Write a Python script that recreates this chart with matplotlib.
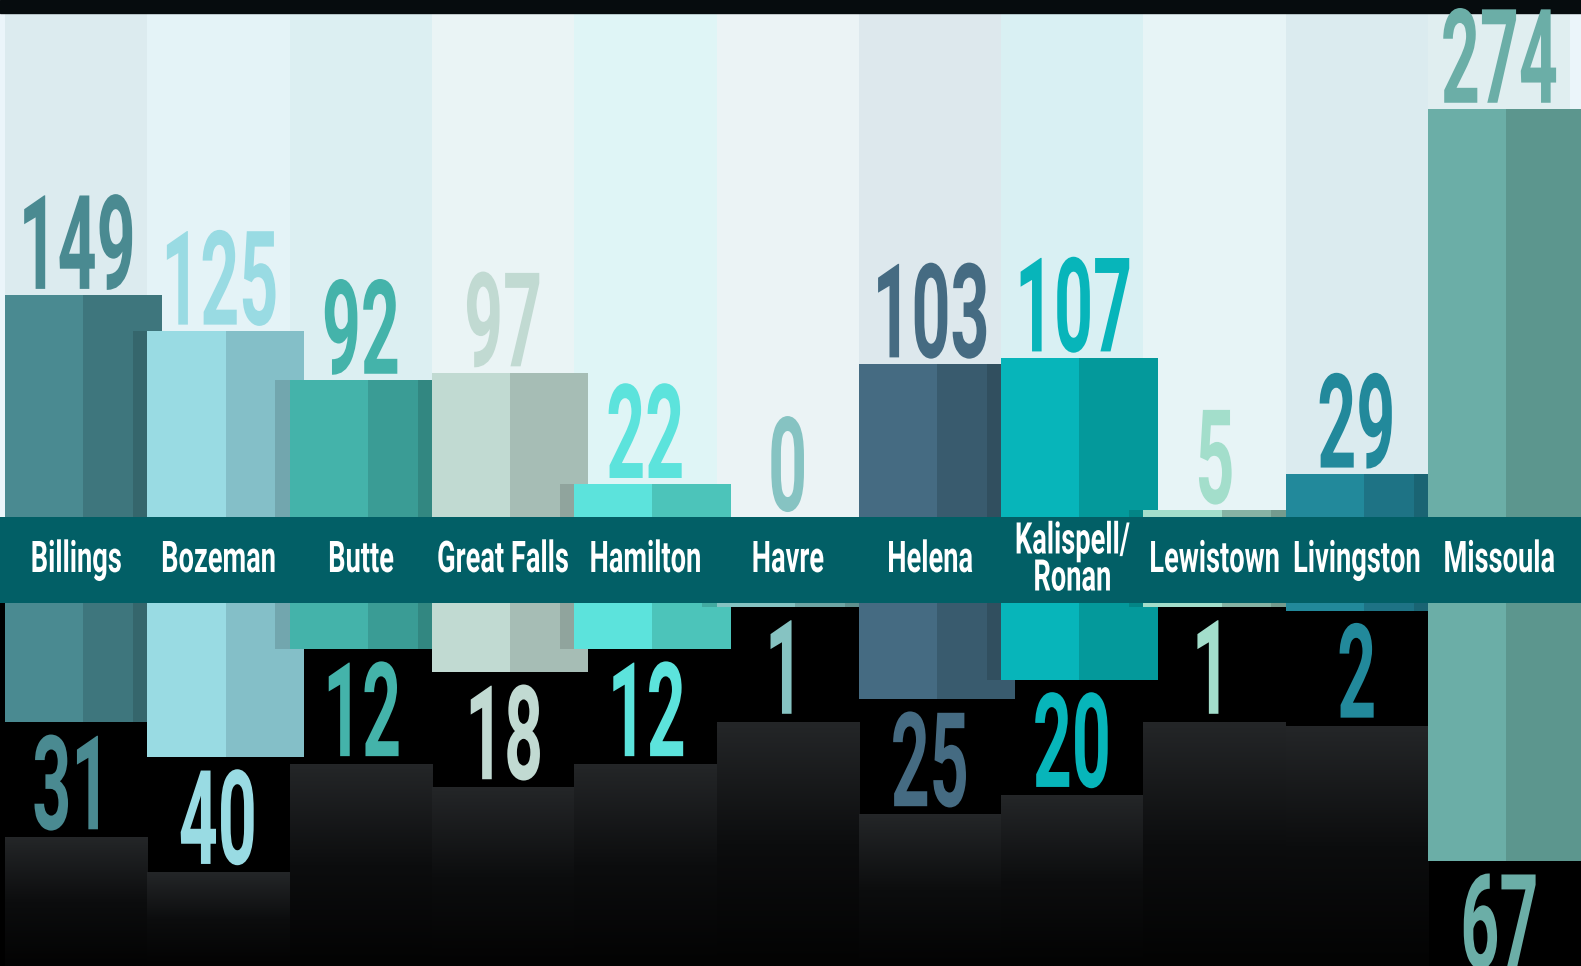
import numpy as np
import matplotlib
matplotlib.use('Agg')
import matplotlib.pyplot as plt
from matplotlib import patheffects as pe, font_manager as fm
from matplotlib.text import Text
from matplotlib.textpath import TextPath
from matplotlib.transforms import Affine2D, Bbox, ScaledTranslation
from matplotlib.colors import LinearSegmentedColormap

# data
cities = ['Billings', 'Bozeman', 'Butte', 'Great Falls', 'Hamilton', 'Havre',
          'Helena', 'Kalispell/\nRonan', 'Lewistown', 'Livingston', 'Missoula']
top_vals = [149, 125, 92, 97, 22, 0, 103, 107, 5, 29, 274]
bottom_vals = [31, 40, 12, 18, 12, 1, 25, 20, 1, 2, 67]

face = ['#4A8A91', '#99DBE3', '#44B3AA', '#C1DAD2', '#5CE3DC', '#86C3C2',
        '#456B82', '#07B5BA', '#A3DECB', '#22899B', '#6BAEA7']
side = ['#3E767D', '#84BFC8', '#3A9C95', '#A6BDB5', '#4CC4BA', '#6FA5A4',
        '#395B6E', '#04999B', '#86B3A4', '#1E7385', '#5C968E']
bg = ['#DCEBEF', '#E4F3F7', '#DCEFF2', '#EAF4F5', '#DFF5F6', '#EBF3F5',
      '#DDE8ED', '#D9F0F3', '#E7F4F6', '#DBEBEF', '#E0EEF0']
band_color = '#025F66'

FONT = 'Roboto'
plt.rcParams['font.family'] = [FONT, 'DejaVu Sans']
fp = fm.FontProperties(family=[FONT, 'DejaVu Sans'], weight='bold')

# squeeze factors so the glyphs look like a condensed gothic face
e0 = TextPath((0, 0), '0', size=100, prop=fp).get_extents()
sq_num = 0.34 * e0.height / e0.width
fs_num = 96 / (e0.height / 100) * 0.72
eB = TextPath((0, 0), 'B', size=100, prop=fp).get_extents()
eBill = TextPath((0, 0), 'Billings', size=100, prop=fp).get_extents()
sq_lab = 2.85 * eB.height / eBill.width
fs_lab = 31 / (eB.height / 100) * 0.72


class Squeeze(pe.AbstractPathEffect):
    def __init__(self, sx):
        super().__init__()
        self.sx = sx

    def draw_path(self, renderer, gc, tpath, affine, rgbFace=None):
        ext = tpath.get_extents()
        cx = (ext.x0 + ext.x1) / 2
        t = Affine2D().translate(-cx, 0).scale(self.sx, 1).translate(cx, 0) + affine
        renderer.draw_path(gc, tpath, t, rgbFace)


class SqText(Text):
    # text drawn narrower; its extent reports the narrow width too
    def __init__(self, *args, sx=1.0, **kw):
        super().__init__(*args, **kw)
        self.sx = sx
        self.set_path_effects([Squeeze(sx)])

    def get_window_extent(self, renderer=None, dpi=None):
        bb = super().get_window_extent(renderer, dpi)
        cx = (bb.x0 + bb.x1) / 2
        hw = bb.width * self.sx / 2
        return Bbox([[cx - hw, bb.y0], [cx + hw, bb.y1]])


W, H = 1581, 966
band_top, band_bot = 517, 603
x0_px, step_px = 5, 142.3
up_scale, lo_scale = 1.489, 3.85
xlim = (-x0_px / step_px, (W - x0_px) / step_px)

fig = plt.figure(figsize=(W / 100, H / 100), dpi=100, facecolor='black')


def clean(ax):
    ax.set_xticks([])
    ax.set_yticks([])
    for s in ax.spines.values():
        s.set_visible(False)


def number(ax, xv, yv, s, color, dy):
    tr = ax.transData + ScaledTranslation(0, dy / 72, fig.dpi_scale_trans)
    t = SqText(xv, yv, s, sx=sq_num, transform=tr, ha='center', va='baseline',
               fontproperties=fp, fontsize=fs_num, color=color, zorder=10)
    t.set_clip_on(False)
    ax.add_artist(t)


x = np.arange(len(cities))
n = len(cities)

# upper part
ax_top = fig.add_axes([0, (H - band_top) / H, 1, band_top / H])
clean(ax_top)
ax_top.set_facecolor('#EBF5FA')
ytop = band_top / up_scale
strip = (band_top - 13) / up_scale
ax_top.bar(x, strip, width=1, align='edge', color=bg, zorder=0.5)
ax_top.axhspan(strip, ytop, color='#060C0E', zorder=0.6)

for i in range(n):
    z = 2 + i * 0.01
    v = top_vals[i]
    ax_top.bar(i, v, width=0.55, align='edge', color=face[i], zorder=z)
    ax_top.bar(i + 0.55, v, width=0.55, align='edge', color=side[i], zorder=z)
    if i < n - 1:
        ax_top.bar(i + 0.9, min(v, top_vals[i + 1]), width=0.1, align='edge',
                   color='black', alpha=0.13, zorder=z + 0.001)
    number(ax_top, i + 0.5, v, str(v), face[i], 4.5)
ax_top.set_xlim(*xlim)
ax_top.set_ylim(0, ytop)

# lower part
ax_bot = fig.add_axes([0, 0, 1, (H - band_bot) / H])
clean(ax_bot)
ax_bot.set_facecolor('black')
ymax = (H - band_bot) / lo_scale
dark = LinearSegmentedColormap.from_list('dark', ['#242628', '#0C0D0E', '#030303'])
grad = np.linspace(0, 1, 128).reshape(-1, 1)

for i in range(n):
    z = 2 + i * 0.01
    v = bottom_vals[i]
    ax_bot.bar(i, v, width=0.55, align='edge', color=face[i], zorder=z)
    ax_bot.bar(i + 0.55, v, width=0.55, align='edge', color=side[i], zorder=z)
    if i < n - 1:
        ax_bot.bar(i + 0.9, min(v, bottom_vals[i + 1]), width=0.1, align='edge',
                   color='black', alpha=0.13, zorder=z + 0.001)
    blk = v + 30
    if blk < ymax:
        ax_bot.imshow(grad, extent=(i, i + 1, ymax, blk), cmap=dark, aspect='auto',
                      origin='upper', zorder=1)
    number(ax_bot, i + 0.5, v, str(v), face[i], -77)
ax_bot.set_xlim(*xlim)
ax_bot.set_ylim(ymax, 0)

# band with city names
ax_band = fig.add_axes([0, (H - band_bot) / H, 1, (band_bot - band_top) / H])
clean(ax_band)
ax_band.set_facecolor(band_color)
ax_band.set_xlim(*xlim)
ax_band.set_ylim(0, 1)
for i, c in enumerate(cities):
    ax_band.add_artist(SqText(i + 0.5, 0.5, c, sx=sq_lab, ha='center', va='center',
                              fontproperties=fp, fontsize=fs_lab, color='white',
                              linespacing=0.85, transform=ax_band.transData))

fig.savefig('out.png', dpi=100, facecolor=fig.get_facecolor())
